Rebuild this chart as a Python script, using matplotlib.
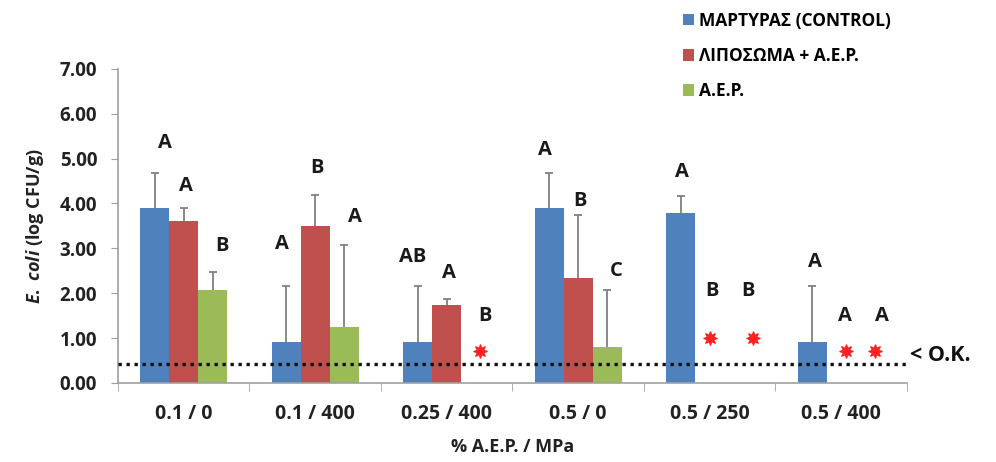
import matplotlib
matplotlib.use("Agg")
import matplotlib.pyplot as plt
import numpy as np

plt.rcParams['font.family'] = ['Open Sans', 'DejaVu Sans']
plt.rcParams['mathtext.fontset'] = 'custom'
plt.rcParams['mathtext.it'] = 'Open Sans:italic:bold'
plt.rcParams['mathtext.rm'] = 'Open Sans:bold'

# data
categories = ["0.1 / 0", "0.1 / 400", "0.25 / 400", "0.5 / 0", "0.5 / 250", "0.5 / 400"]
series = ["ΜΑΡΤΥΡΑΣ (CONTROL)", "ΛΙΠΟΣΩΜΑ + Α.Ε.Ρ.", "Α.Ε.Ρ."]
control = [3.89, 0.91, 0.91, 3.89, 3.78, 0.91]
control_err = [0.80, 1.25, 1.25, 0.80, 0.38, 1.25]
lipo = [3.60, 3.49, 1.73, 2.33, np.nan, np.nan]
lipo_err = [0.31, 0.69, 0.14, 1.42, 0, 0]
aep = [2.07, 1.24, np.nan, 0.80, np.nan, np.nan]
aep_err = [0.40, 1.83, 0, 1.27, 0, 0]
colors = ["#4F81BD", "#C0504D", "#9BBB59"]

# significance letters per category (control, liposome, AEP), heights and x offsets
letters = [["A", "A", "B"], ["A", "B", "A"], ["AB", "A", "B"],
           ["A", "B", "C"], ["A", "B", "B"], ["A", "A", "A"]]
letter_y = [[5.35, 4.4, 3.05], [3.1, 4.8, 3.7], [2.8, 2.45, 1.5],
            [5.2, 4.05, 2.5], [4.7, 2.05, 2.05], [2.7, 1.5, 1.5]]
letter_dx = [[-0.14, 0.02, 0.29], [-0.25, 0.01, 0.30], [-0.26, 0.02, 0.29],
             [-0.25, 0.01, 0.29], [-0.21, 0.02, 0.29], [-0.20, 0.03, 0.31]]
# below-detection markers (category, x offset, value)
stars = [(2, 0.25, 0.71), (4, 0.0, 1.0), (4, 0.33, 1.0), (5, 0.04, 0.71), (5, 0.26, 0.71)]
detection_limit = 0.42

fig = plt.figure(figsize=(9.96, 4.62), dpi=100)
ax = fig.add_axes([0.1185, 0.171, 0.792, 0.68])

x = np.arange(len(categories))
w = 0.22
vals = [control, lipo, aep]
errs = [control_err, lipo_err, aep_err]
handles = []
for i in range(3):
    pos = x + (i - 1) * w
    b = ax.bar(pos, vals[i], w, color=colors[i], label=series[i], zorder=2)
    handles.append(b)
    v = np.array(vals[i])
    e = np.array(errs[i])
    ok = ~np.isnan(v)
    eb = ax.errorbar(pos[ok], v[ok], yerr=[np.zeros(ok.sum()), e[ok]], fmt='none',
                     ecolor='#808080', elinewidth=1.3, capsize=3, capthick=1.3, zorder=3)
    eb[1][0].set_visible(False)  # hide the lower cap

for c in range(len(categories)):
    for i in range(3):
        ax.text(x[c] + letter_dx[c][i], letter_y[c][i], letters[c][i],
                ha='center', va='center', fontsize=14.5, fontweight='bold', color='#1a1a1a')

for c, dx, yv in stars:
    ax.plot(x[c] + dx, yv, marker=(8, 1, 0), color='#ff2020',
            markersize=10, markeredgewidth=0.8, zorder=4)

ax.axhline(detection_limit, color='#111111', linestyle=(0, (1.0, 1.4)), linewidth=2.4, zorder=4)
ax.text(1.004, detection_limit + 0.2, "< Ο.Κ.", transform=ax.get_yaxis_transform(),
        ha='left', va='center', fontsize=15.5, fontweight='bold', color='#111111')

ax.set_xlim(-0.5, len(categories) - 0.5)
ax.set_ylim(0, 7)
ax.set_yticks(np.arange(0, 8, 1))
ax.set_yticklabels([f"{v:.2f}" for v in range(8)], fontsize=13.5, fontweight='bold', color='#222222')
ax.set_xticks(x)
ax.set_xticklabels(categories, fontsize=14, fontweight='bold', color='#222222')
ax.set_xticks(np.arange(-0.5, len(categories), 1), minor=True)
ax.tick_params(axis='x', which='major', length=0, pad=15)
ax.tick_params(axis='x', which='minor', length=6, color='#a0a0a0', direction='out')
ax.tick_params(axis='y', length=5, color='#a0a0a0', pad=10)
for s in ['top', 'right']:
    ax.spines[s].set_visible(False)
for s in ['left', 'bottom']:
    ax.spines[s].set_color('#a0a0a0')
    ax.spines[s].set_linewidth(1.2)

ax.set_ylabel(r"$\it{E.\ coli}$ (log CFU/g)", fontsize=13, fontweight='bold', color='#222222', labelpad=10)
ax.set_xlabel("% Α.Ε.Ρ. / MPa", fontsize=13, fontweight='bold', color='#222222', labelpad=10)

fig.legend(handles=handles, loc='upper left', bbox_to_anchor=(0.672, 1.005), frameon=False,
           prop={'weight': 'bold', 'size': 12.5}, handlelength=0.65, handleheight=0.65,
           handletextpad=0.25, labelspacing=1.0, borderpad=0.3)

fig.savefig("out.png", dpi=100)
